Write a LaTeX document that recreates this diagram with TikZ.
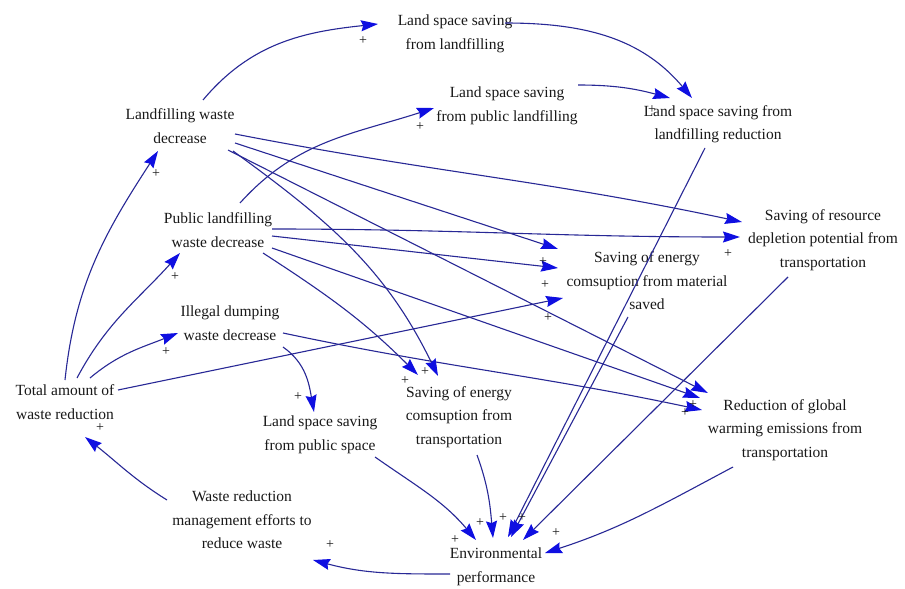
\documentclass[tikz,border=0pt]{standalone}
\usepackage{fontspec}
\setmainfont{Liberation Serif}
\usetikzlibrary{arrows.meta}
\definecolor{linkblue}{RGB}{40,40,150}
\definecolor{headblue}{RGB}{15,15,225}
\definecolor{txt}{RGB}{25,25,25}
\tikzset{
  var/.style={font=\fontsize{15.5}{23.5}\selectfont, align=center, inner sep=0pt, text=txt},
  plus/.style={font=\fontsize{14}{14}\selectfont, inner sep=0pt, text=txt},
  link/.style={draw=linkblue, line width=1.1pt,
    -{Stealth[length=17pt, width=11pt, inset=2pt, color=headblue]}},
}
\begin{document}
\begin{tikzpicture}[x=1pt, y=1pt]
\useasboundingbox[fill=white] (0,0) rectangle (905,-589);

% variables
\node[var] (lsl)  at (455,-34)  {Land space saving\\from landfilling};
\node[var] (lwd)  at (180,-126) {Landfilling waste\\decrease};
\node[var] (lspl) at (507,-106) {Land space saving\\from public landfilling};
\node[var] (lslr) at (718,-124) {Land space saving from\\landfilling reduction};
\node[var] (plwd) at (218,-230) {Public landfilling\\waste decrease};
\node[var] (srd)  at (823,-240) {Saving of resource\\depletion potential from\\transportation};
\node[var] (sem)  at (647,-281) {Saving of energy\\comsuption from material\\saved};
\node[var] (idw)  at (230,-323) {Illegal dumping\\waste decrease};
\node[var] (tot)  at (65,-402)  {Total amount of\\waste reduction};
\node[var] (lsps) at (320,-435) {Land space saving\\from public space};
\node[var] (set)  at (459,-417) {Saving of energy\\comsuption from\\transportation};
\node[var] (rgw)  at (785,-430) {Reduction of global\\warming emissions from\\transportation};
\node[var] (wrm)  at (242,-520) {Waste reduction\\management efforts to\\reduce waste};
\node[var] (env)  at (496,-567) {Environmental\\performance};

% causal links
\draw[link] ([shift={(23,26)}]lwd.center) to[out=50, in=186] ([shift={(-77,10)}]lsl.center);
\draw[link] ([shift={(50,11)}]lsl.center) to[out=0, in=130] ([shift={(-26,26)}]lslr.center);
\draw[link] ([shift={(71,21)}]lspl.center) to[out=0, in=165] ([shift={(-48,26)}]lslr.center);
\draw[link] ([shift={(22,27)}]plwd.center) to[out=48, in=198] ([shift={(-73,-2)}]lspl.center);

\draw[link] ([shift={(0,22)}]tot.center) to[out=84, in=237] ([shift={(-22,-25)}]lwd.center);
\draw[link] ([shift={(12,24)}]tot.center) to[out=62, in=228] ([shift={(-38,-23)}]plwd.center);
\draw[link] ([shift={(25,24)}]tot.center) to[out=40, in=202] ([shift={(-52,-10)}]idw.center);
\draw[link] ([shift={(53,12)}]tot.center) -- ([shift={(-84,-17)}]sem.center);

\draw[link] ([shift={(53,-24)}]idw.center) to[out=-35, in=100] ([shift={(-6,23)}]lsps.center);
\draw[link] ([shift={(53,-10)}]idw.center) to[out=-12, in=168] ([shift={(-83,20)}]rgw.center);

\draw[link] ([shift={(55,-8)}]lwd.center) to[out=-11, in=168] ([shift={(-81,18)}]srd.center);
\draw[link] ([shift={(55,-17)}]lwd.center) -- ([shift={(-89,32)}]sem.center);
\draw[link] ([shift={(48,-24)}]lwd.center) -- ([shift={(-77,37)}]rgw.center);
\draw[link] ([shift={(53,-25)}]lwd.center) to[out=-36, in=116] ([shift={(-21,41)}]set.center);

\draw[link] ([shift={(54,1)}]plwd.center) to[out=0, in=180] ([shift={(-83,3)}]srd.center);
\draw[link] ([shift={(54,-6)}]plwd.center) -- ([shift={(-89,13)}]sem.center);
\draw[link] ([shift={(54,-18)}]plwd.center) -- ([shift={(-85,32)}]rgw.center);
\draw[link] ([shift={(45,-23)}]plwd.center) to[out=-33, in=135] ([shift={(-41,42)}]set.center);

\draw[link] ([shift={(55,-22)}]lsps.center) to[out=-35, in=130] ([shift={(-20,27)}]env.center);
\draw[link] ([shift={(18,-38)}]set.center) to[out=-70, in=95] ([shift={(-3,29)}]env.center);
\draw[link] ([shift={(-13,-24)}]lslr.center) -- ([shift={(12,30)}]env.center);
\draw[link] ([shift={(-19,-36)}]sem.center) -- ([shift={(15,30)}]env.center);
\draw[link] ([shift={(-35,-37)}]srd.center) -- ([shift={(27,27)}]env.center);
\draw[link] ([shift={(-52,-37)}]rgw.center) to[out=208, in=18] ([shift={(49,14)}]env.center);

\draw[link] ([shift={(-46,-7)}]env.center) to[out=180, in=-15] ([shift={(71,-40)}]wrm.center);
\draw[link] ([shift={(-75,20)}]wrm.center) to[out=148, in=-38] ([shift={(20,-35)}]tot.center);

% polarity signs
\node[plus] (s1)  at (363,-41)  {+};
\node[plus] (s2)  at (420,-127) {+};
\node[plus] (s3)  at (156,-174) {+};
\node[plus] (s4)  at (175,-277) {+};
\node[plus] (s5)  at (166,-352) {+};
\node[plus] (s6)  at (298,-397) {+};
\node[plus] (s7)  at (100,-428) {+};
\node[plus] (s8)  at (330,-545) {+};
\node[plus] (s9)  at (543,-262) {+};
\node[plus] (s10) at (545,-285) {+};
\node[plus] (s11) at (548,-318) {+};
\node[plus] (s12) at (728,-254) {+};
\node[plus] (s13) at (405,-381) {+};
\node[plus] (s14) at (425,-372) {+};
\node[plus] (s15) at (693,-405) {+};
\node[plus] (s16) at (685,-413) {+};
\node[plus] (s17) at (652,-110) {+};
\node[plus] (s18) at (480,-523) {+};
\node[plus] (s19) at (503,-518) {+};
\node[plus] (s20) at (522,-518) {+};
\node[plus] (s21) at (455,-540) {+};
\node[plus] (s22) at (556,-533) {+};
\end{tikzpicture}
\end{document}
